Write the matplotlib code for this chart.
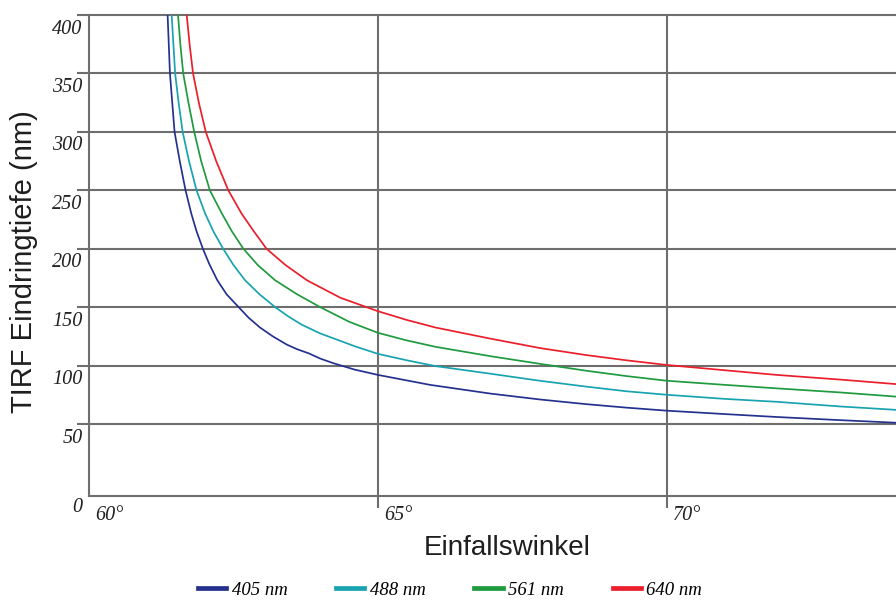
import matplotlib
matplotlib.use("Agg")
import matplotlib.pyplot as plt
import matplotlib.transforms as mtransforms

# ---- data ----
x405 = [61.36, 61.38, 61.40, 61.44, 61.48, 61.57, 61.67, 61.77, 61.86, 61.97, 62.08, 62.22, 62.38,
        62.57, 62.76, 62.96, 63.18, 63.42, 63.6, 63.8, 64.0, 64.23, 64.6, 65.0, 65.9, 66.95, 67.8,
        68.6, 69.3, 70.0, 71.0, 71.9, 73.0, 74.0]
y405 = [400, 375, 350, 325, 300, 275, 250, 230, 215, 200, 187, 173, 161,
        151, 141, 132.5, 125, 118, 114, 110.5, 106, 102, 96.5, 92, 83.5, 76, 71,
        67, 64, 61.4, 58.5, 56, 53.3, 51]

x488 = [61.43, 61.46, 61.49, 61.55, 61.62, 61.73, 61.86, 62.01, 62.15, 62.32, 62.50, 62.70, 62.95,
        63.22, 63.45, 63.68, 64.0, 64.3, 64.6, 65.0, 65.5, 66.0, 66.95, 67.8, 68.6, 69.3, 70.0, 71.0,
        71.9, 73.0, 74.0]
y488 = [400, 375, 350, 325, 300, 275, 250, 230, 215, 200, 186, 173, 161,
        150, 142, 135, 127.5, 122, 116.5, 110, 104.5, 99.5, 93, 87, 82, 78, 75, 71.5,
        69, 65, 62]

x561 = [61.54, 61.58, 61.63, 61.72, 61.82, 61.94, 62.09, 62.30, 62.47, 62.67, 62.92, 63.22, 63.6,
        64.0, 64.5, 65.0, 65.5, 66.0, 66.95, 67.8, 68.6, 69.3, 70.0, 71.0, 71.9, 73.0, 74.0]
y561 = [400, 375, 350, 325, 300, 275, 250, 230, 215, 200, 186, 173, 161,
        150, 137.5, 128, 121.5, 116, 108, 101.5, 95.6, 91, 87, 83.5, 80.5, 77, 73.3]

x640 = [61.69, 61.74, 61.80, 61.90, 62.02, 62.20, 62.41, 62.64, 62.85, 63.07, 63.4, 63.77, 64.35,
        65.0, 65.5, 66.0, 66.95, 67.8, 68.6, 69.3, 70.0, 71.0, 71.9, 73.0, 74.0]
y640 = [400, 375, 350, 325, 300, 275, 250, 230, 215, 200, 186, 173, 158,
        146.5, 139, 132.5, 123, 115, 109, 104.5, 100.5, 96, 92, 88, 84]

series_labels = ["405 nm", "488 nm", "561 nm", "640 nm"]
series_colors = ["#24318f", "#18a3b0", "#1f9a3e", "#ea1f2b"]

y_ticks = [0, 50, 100, 150, 200, 250, 300, 350, 400]
y_tick_labels = ["0", "50", "100", "150", "200", "250", "300", "350", "400"]
x_ticks = [60, 65, 70]
x_tick_labels = ["60°", "65°", "70°"]

xlabel = "Einfallswinkel"
ylabel = "TIRF Eindringtiefe (nm)"

# ---- figure ----
fig = plt.figure(figsize=(8.96, 6.0), dpi=100)
ax = fig.add_axes([89 / 896, 1 - 496 / 600, 1 - 89 / 896, (496 - 15) / 600])

grid_c = "#6e6e6e"
grid_lw = 1.5

ax.set_xlim(60, 73.96)
ax.set_ylim(-11.6, 400)

for xs, ys, c in zip([x405, x488, x561, x640], [y405, y488, y561, y640], series_colors):
    ax.plot(xs, ys, color=c, lw=1.25, solid_capstyle="round", solid_joinstyle="round", zorder=3)

# grid lines (horizontal at 50..400, vertical at 65, 70)
for v in y_ticks[1:]:
    ax.axhline(v, color=grid_c, lw=grid_lw, zorder=1, clip_on=False)
for v in x_ticks[1:]:
    ax.axvline(v, color=grid_c, lw=grid_lw, zorder=1)

ax.set_xticks(x_ticks[1:])
ax.set_yticks(y_ticks[1:])
ax.set_xticklabels([])
ax.set_yticklabels([])
ax.tick_params(axis="both", length=8.6, width=grid_lw, color=grid_c, direction="out")

for s in ["top", "right"]:
    ax.spines[s].set_visible(False)
for s in ["left", "bottom"]:
    ax.spines[s].set_color(grid_c)
    ax.spines[s].set_linewidth(grid_lw)

tick_font = dict(family=["Liberation Serif", "DejaVu Serif"], style="italic", size=14.5, color="#222222")

# y tick labels: placed below their gridline, left of the axis
blend_y = mtransforms.blended_transform_factory(ax.transAxes, ax.transData)
for v, lab in zip(y_ticks, y_tick_labels):
    yy = v if v > 0 else ax.get_ylim()[0]
    off = mtransforms.ScaledTranslation(0, -14 / 100 if v > 0 else -12 / 100, fig.dpi_scale_trans)
    ax.text(-0.008, yy, lab, transform=blend_y + off, ha="right", va="center", **tick_font)

# x tick labels: right of their gridline, below the axis
blend_x = mtransforms.blended_transform_factory(ax.transData, ax.transAxes)
for v, lab in zip(x_ticks, x_tick_labels):
    off = mtransforms.ScaledTranslation(6 / 100, -19 / 100, fig.dpi_scale_trans)
    ax.text(v, 0, lab, transform=blend_x + off, ha="left", va="center", **tick_font)

label_font = dict(family=["Liberation Sans", "DejaVu Sans"], color="#1e1e1e")
fig.text(507 / 896, 1 - 548 / 600, xlabel, ha="center", va="center", size=20, **label_font)
fig.text(24 / 896, 1 - 262 / 600, ylabel, ha="center", va="center", rotation=90, size=21, **label_font)

handles = [plt.Line2D([], [], color=c, lw=3.4) for c in series_colors]
fig.legend(handles, series_labels, loc="center", bbox_to_anchor=(450 / 896, 1 - 590 / 600),
           ncol=4, frameon=False, handlelength=1.5, handletextpad=0.3, columnspacing=2.6,
           prop=dict(family="Liberation Serif", style="italic", size=13.5))

fig.savefig("out.png", dpi=100, facecolor="white")
